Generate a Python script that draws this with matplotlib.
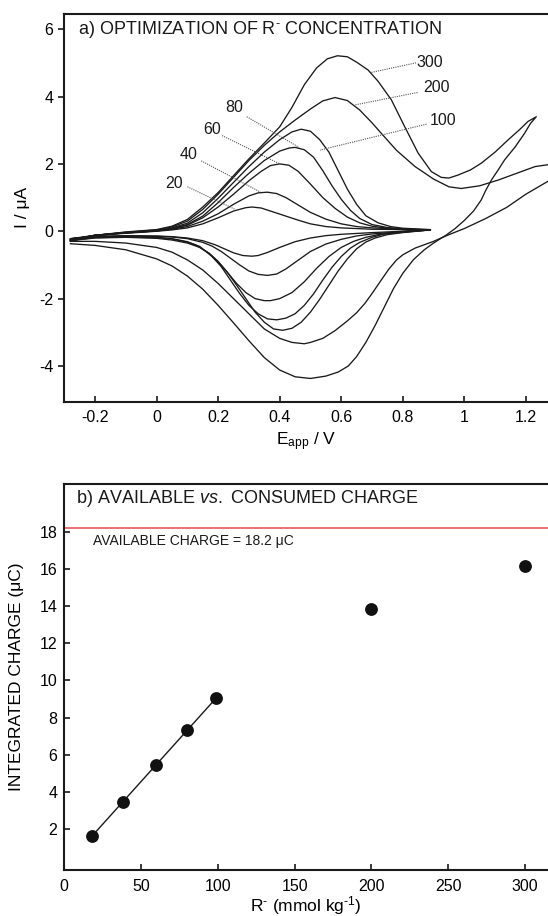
import numpy as np
import matplotlib
matplotlib.use("Agg")
import matplotlib.pyplot as plt

plt.rcParams['font.family'] = ['Liberation Sans', 'DejaVu Sans']
plt.rcParams['mathtext.fontset'] = 'custom'
plt.rcParams['mathtext.rm'] = 'Liberation Sans'
plt.rcParams['mathtext.it'] = 'Liberation Sans:italic'
plt.rcParams['axes.unicode_minus'] = False

# ---------------- Panel a data: cyclic voltammograms ----------------
conc_labels = ["20", "40", "60", "80", "100", "200", "300"]

E20_f = [-0.28, -0.2, -0.1, 0.0, 0.05, 0.1, 0.15, 0.2, 0.25, 0.29, 0.31, 0.34, 0.38, 0.42, 0.46, 0.5, 0.55, 0.6, 0.7, 0.8, 0.89]
I20_f = [-0.22, -0.12, -0.06, 0.0, 0.04, 0.1, 0.22, 0.4, 0.6, 0.7, 0.72, 0.69, 0.57, 0.45, 0.33, 0.22, 0.14, 0.1, 0.06, 0.05, 0.04]
E20_r = [0.89, 0.8, 0.7, 0.6, 0.55, 0.5, 0.45, 0.4, 0.36, 0.33, 0.31, 0.28, 0.25, 0.22, 0.19, 0.15, 0.1, 0.05, 0.0, -0.1, -0.2, -0.28]
I20_r = [0.04, 0.0, -0.04, -0.09, -0.13, -0.2, -0.31, -0.48, -0.63, -0.72, -0.74, -0.72, -0.64, -0.52, -0.4, -0.28, -0.2, -0.16, -0.14, -0.13, -0.15, -0.22]

E40_f = [-0.28, -0.2, -0.1, 0.0, 0.05, 0.1, 0.15, 0.2, 0.25, 0.3, 0.33, 0.36, 0.39, 0.42, 0.46, 0.5, 0.55, 0.6, 0.65, 0.7, 0.8, 0.89]
I40_f = [-0.24, -0.12, -0.05, 0.01, 0.06, 0.14, 0.3, 0.52, 0.8, 1.05, 1.14, 1.16, 1.12, 1.0, 0.78, 0.56, 0.36, 0.22, 0.14, 0.1, 0.06, 0.04]
E40_r = [0.89, 0.8, 0.7, 0.65, 0.6, 0.55, 0.5, 0.46, 0.42, 0.39, 0.36, 0.33, 0.3, 0.27, 0.24, 0.21, 0.18, 0.15, 0.1, 0.05, 0.0, -0.1, -0.2, -0.28]
I40_r = [0.04, -0.01, -0.08, -0.14, -0.24, -0.38, -0.6, -0.86, -1.12, -1.27, -1.31, -1.28, -1.18, -1.0, -0.8, -0.6, -0.44, -0.33, -0.22, -0.17, -0.15, -0.14, -0.16, -0.24]

E60_f = [-0.28, -0.2, -0.1, 0.0, 0.05, 0.1, 0.15, 0.2, 0.25, 0.3, 0.34, 0.37, 0.4, 0.43, 0.46, 0.5, 0.54, 0.58, 0.62, 0.66, 0.7, 0.75, 0.8, 0.89]
I60_f = [-0.25, -0.12, -0.05, 0.01, 0.07, 0.18, 0.4, 0.72, 1.1, 1.5, 1.78, 1.95, 2.0, 1.96, 1.78, 1.4, 1.0, 0.68, 0.42, 0.25, 0.15, 0.09, 0.06, 0.04]
E60_r = [0.89, 0.8, 0.72, 0.68, 0.64, 0.6, 0.56, 0.52, 0.48, 0.44, 0.4, 0.37, 0.35, 0.32, 0.29, 0.26, 0.23, 0.2, 0.17, 0.13, 0.1, 0.05, 0.0, -0.1, -0.2, -0.28]
I60_r = [0.04, -0.02, -0.1, -0.18, -0.3, -0.48, -0.75, -1.1, -1.5, -1.82, -2.0, -2.06, -2.06, -2.0, -1.82, -1.55, -1.22, -0.9, -0.65, -0.42, -0.31, -0.22, -0.18, -0.16, -0.18, -0.26]

E80_f = [-0.28, -0.2, -0.1, 0.0, 0.05, 0.1, 0.15, 0.2, 0.25, 0.3, 0.35, 0.4, 0.43, 0.45, 0.48, 0.51, 0.54, 0.57, 0.6, 0.63, 0.66, 0.7, 0.75, 0.8, 0.89]
I80_f = [-0.26, -0.12, -0.04, 0.02, 0.08, 0.2, 0.45, 0.85, 1.3, 1.72, 2.1, 2.38, 2.47, 2.49, 2.42, 2.2, 1.8, 1.35, 0.95, 0.62, 0.38, 0.2, 0.11, 0.07, 0.04]
E80_r = [0.89, 0.8, 0.74, 0.7, 0.66, 0.63, 0.6, 0.57, 0.54, 0.51, 0.48, 0.45, 0.42, 0.39, 0.36, 0.33, 0.3, 0.27, 0.24, 0.21, 0.18, 0.14, 0.1, 0.05, 0.0, -0.1, -0.2, -0.28]
I80_r = [0.04, -0.03, -0.08, -0.18, -0.33, -0.5, -0.75, -1.07, -1.45, -1.86, -2.2, -2.45, -2.58, -2.63, -2.6, -2.45, -2.2, -1.85, -1.45, -1.05, -0.75, -0.45, -0.32, -0.23, -0.19, -0.17, -0.19, -0.27]

E100_f = [-0.28, -0.2, -0.1, 0.0, 0.05, 0.1, 0.15, 0.2, 0.25, 0.3, 0.35, 0.4, 0.44, 0.47, 0.5, 0.53, 0.56, 0.59, 0.62, 0.65, 0.68, 0.72, 0.76, 0.8, 0.89]
I100_f = [-0.27, -0.12, -0.04, 0.02, 0.1, 0.24, 0.55, 0.98, 1.45, 1.92, 2.35, 2.72, 2.95, 3.03, 2.97, 2.72, 2.35, 1.8, 1.25, 0.8, 0.46, 0.25, 0.14, 0.09, 0.05]
E100_r = [0.89, 0.8, 0.75, 0.71, 0.68, 0.65, 0.62, 0.59, 0.56, 0.53, 0.5, 0.47, 0.44, 0.41, 0.38, 0.35, 0.32, 0.29, 0.26, 0.23, 0.2, 0.17, 0.14, 0.1, 0.05, 0.0, -0.1, -0.2, -0.28]
I100_r = [0.04, -0.04, -0.1, -0.2, -0.32, -0.52, -0.82, -1.18, -1.6, -2.02, -2.4, -2.7, -2.88, -2.94, -2.9, -2.7, -2.4, -2.0, -1.6, -1.22, -0.9, -0.65, -0.48, -0.35, -0.26, -0.21, -0.18, -0.2, -0.28]

E200_f = [-0.28, -0.2, -0.1, 0.0, 0.05, 0.1, 0.15, 0.2, 0.25, 0.3, 0.35, 0.4, 0.45, 0.5, 0.54, 0.58, 0.62, 0.66, 0.7, 0.73, 0.78, 0.84, 0.9, 0.95, 0.99, 1.05, 1.11, 1.17, 1.23, 1.275]
I200_f = [-0.28, -0.12, -0.03, 0.04, 0.13, 0.3, 0.65, 1.1, 1.6, 2.1, 2.55, 2.95, 3.3, 3.63, 3.87, 3.97, 3.88, 3.6, 3.22, 2.91, 2.4, 1.92, 1.55, 1.32, 1.27, 1.35, 1.52, 1.72, 1.92, 1.98]
E200_r = [1.275, 1.2, 1.138, 1.07, 1.0, 0.95, 0.9, 0.84, 0.8, 0.78, 0.755, 0.73, 0.7, 0.677, 0.65, 0.62, 0.58, 0.54, 0.5, 0.48, 0.44, 0.4, 0.35, 0.3, 0.25, 0.2, 0.15, 0.1, 0.05, 0.0, -0.1, -0.2, -0.28]
I200_r = [1.5, 1.1, 0.71, 0.38, 0.08, -0.1, -0.3, -0.5, -0.7, -0.85, -1.12, -1.45, -1.85, -2.14, -2.42, -2.66, -2.95, -3.18, -3.3, -3.34, -3.3, -3.18, -2.9, -2.45, -2.0, -1.55, -1.15, -0.85, -0.62, -0.48, -0.35, -0.3, -0.3]

E300_f = [-0.28, -0.2, -0.1, 0.0, 0.05, 0.1, 0.15, 0.2, 0.25, 0.3, 0.35, 0.4, 0.44, 0.48, 0.52, 0.555, 0.588, 0.62, 0.65, 0.687, 0.72, 0.763, 0.806, 0.85, 0.893, 0.925, 0.95, 0.98, 1.02, 1.055, 1.1, 1.142, 1.18, 1.207, 1.234]
I300_f = [-0.3, -0.12, -0.02, 0.05, 0.15, 0.35, 0.72, 1.15, 1.65, 2.15, 2.62, 3.1, 3.68, 4.35, 4.85, 5.12, 5.21, 5.18, 5.02, 4.79, 4.45, 3.9, 3.11, 2.32, 1.77, 1.6, 1.58, 1.67, 1.82, 2.02, 2.35, 2.71, 3.02, 3.26, 3.40]
E300_r = [1.234, 1.215, 1.196, 1.165, 1.131, 1.11, 1.088, 1.07, 1.055, 1.03, 1.0, 0.97, 0.94, 0.9, 0.87, 0.834, 0.8, 0.77, 0.74, 0.71, 0.68, 0.65, 0.623, 0.59, 0.55, 0.5, 0.45, 0.4, 0.35, 0.3, 0.25, 0.2, 0.15, 0.1, 0.05, 0.0, -0.1, -0.2, -0.28]
I300_r = [3.40, 3.2, 2.91, 2.5, 2.12, 1.82, 1.52, 1.22, 0.93, 0.6, 0.32, 0.08, -0.12, -0.35, -0.55, -0.85, -1.25, -1.7, -2.25, -2.8, -3.3, -3.72, -4.0, -4.18, -4.3, -4.37, -4.32, -4.12, -3.75, -3.25, -2.72, -2.2, -1.72, -1.33, -1.03, -0.82, -0.55, -0.42, -0.37]

curves = [
    (E20_f, I20_f, E20_r, I20_r),
    (E40_f, I40_f, E40_r, I40_r),
    (E60_f, I60_f, E60_r, I60_r),
    (E80_f, I80_f, E80_r, I80_r),
    (E100_f, I100_f, E100_r, I100_r),
    (E200_f, I200_f, E200_r, I200_r),
    (E300_f, I300_f, E300_r, I300_r),
]

# label text position and leader-line ends, in data coords
label_xy = [(0.057, 1.42), (0.105, 2.29), (0.179, 3.01), (0.253, 3.68), (0.931, 3.30), (0.911, 4.27), (0.888, 5.01)]
leader_start = [(0.10, 1.32), (0.145, 2.09), (0.213, 2.84), (0.293, 3.40), (0.877, 3.18), (0.848, 4.12), (0.843, 5.0)]
leader_end = [(0.253, 0.66), (0.338, 1.16), (0.40, 2.0), (0.463, 2.49), (0.531, 2.41), (0.644, 3.75), (0.695, 4.71)]

# ---------------- Panel b data ----------------
conc = [18, 38, 60, 80, 99, 200, 300]
charge = [1.64, 3.48, 5.46, 7.32, 9.08, 13.85, 16.15]
available_charge = 18.2
fit_n = 5

# ---------------- Figure ----------------
fig = plt.figure(figsize=(5.48, 9.16), dpi=100)
W, H = 548, 916

def axes_px(l, t, r, b):
    return fig.add_axes([l / W, 1 - b / H, (r - l) / W, (b - t) / H])

ax1 = axes_px(64.3, 14, 548, 401.7)
ax2 = axes_px(64.3, 484, 548, 870.3)

spine_lw = 1.5
tick_fs = 11.5

for ax in (ax1, ax2):
    ax.spines['right'].set_visible(False)
    for s in ('left', 'bottom', 'top'):
        ax.spines[s].set_linewidth(spine_lw)
        ax.spines[s].set_color('#1a1a1a')
    ax.tick_params(axis='both', which='major', labelsize=tick_fs, width=1.2,
                   length=4, color='#1a1a1a', right=False, top=False)

# Panel a
for (ef, i_f, er, i_r) in curves:
    E = list(ef) + list(er)
    I = list(i_f) + list(i_r)
    ax1.plot(E, I, color='#1a1a1a', lw=0.95, solid_joinstyle='round')

for lab, (tx, ty), (sx, sy), (ex, ey) in zip(conc_labels, label_xy, leader_start, leader_end):
    ax1.plot([sx, ex], [sy, ey], color='#555555', lw=0.8, ls=(0, (1, 1)))
    ax1.text(tx, ty, lab, fontsize=11.5, ha='center', va='center', color='#1a1a1a')

ax1.set_xlim(-0.3, 1.272)
ax1.set_ylim(-5.06, 6.45)
ax1.set_xticks([-0.2, 0, 0.2, 0.4, 0.6, 0.8, 1, 1.2])
ax1.set_xticklabels(['-0.2', '0', '0.2', '0.4', '0.6', '0.8', '1', '1.2'])
ax1.set_yticks([-4, -2, 0, 2, 4, 6])
ax1.tick_params(axis='x', direction='in', pad=6)
ax1.tick_params(axis='y', direction='out', pad=4)
ax1.set_xlabel(r'E$_{\mathrm{app}}$ / V', fontsize=12.5, labelpad=4)
ax1.set_ylabel('I / μA', fontsize=12.5, labelpad=6)
ax1.text(0.028, 0.988, r'a) OPTIMIZATION OF R$^{\text{-}}$ CONCENTRATION',
         transform=ax1.transAxes, fontsize=13, ha='left', va='top', color='#1a1a1a')

# Panel b
ax2.axhline(available_charge, color='#e8585e', lw=1.2)
ax2.text(19, available_charge - 0.35, 'AVAILABLE CHARGE = 18.2 μC', fontsize=10,
         ha='left', va='top', color='#1a1a1a')
cx = np.array(conc[:fit_n], dtype=float)
cy = np.array(charge[:fit_n], dtype=float)
p = np.polyfit(cx, cy, 1)
ax2.plot([cx[0], cx[-1]], np.polyval(p, [cx[0], cx[-1]]), color='#1a1a1a', lw=1.0)
ax2.plot(conc, charge, 'o', color='#111111', ms=8.2, zorder=5)

ax2.set_xlim(0, 315)
ax2.set_ylim(-0.2, 20.56)
ax2.set_xticks([0, 50, 100, 150, 200, 250, 300])
ax2.set_yticks([2, 4, 6, 8, 10, 12, 14, 16, 18])
ax2.tick_params(axis='x', direction='in', pad=6)
ax2.tick_params(axis='y', direction='in', pad=5)
ax2.set_xlabel(r'R$^{\text{-}}$ (mmol kg$^{\text{-1}}$)', fontsize=12.5, labelpad=0)
ax2.set_ylabel('INTEGRATED CHARGE (μC)', fontsize=12.5, labelpad=11)
ax2.text(0.025, 0.99, r'b) AVAILABLE $\mathit{vs.}$ CONSUMED CHARGE',
         transform=ax2.transAxes, fontsize=13, ha='left', va='top', color='#1a1a1a')

fig.savefig('out.png', dpi=100)
